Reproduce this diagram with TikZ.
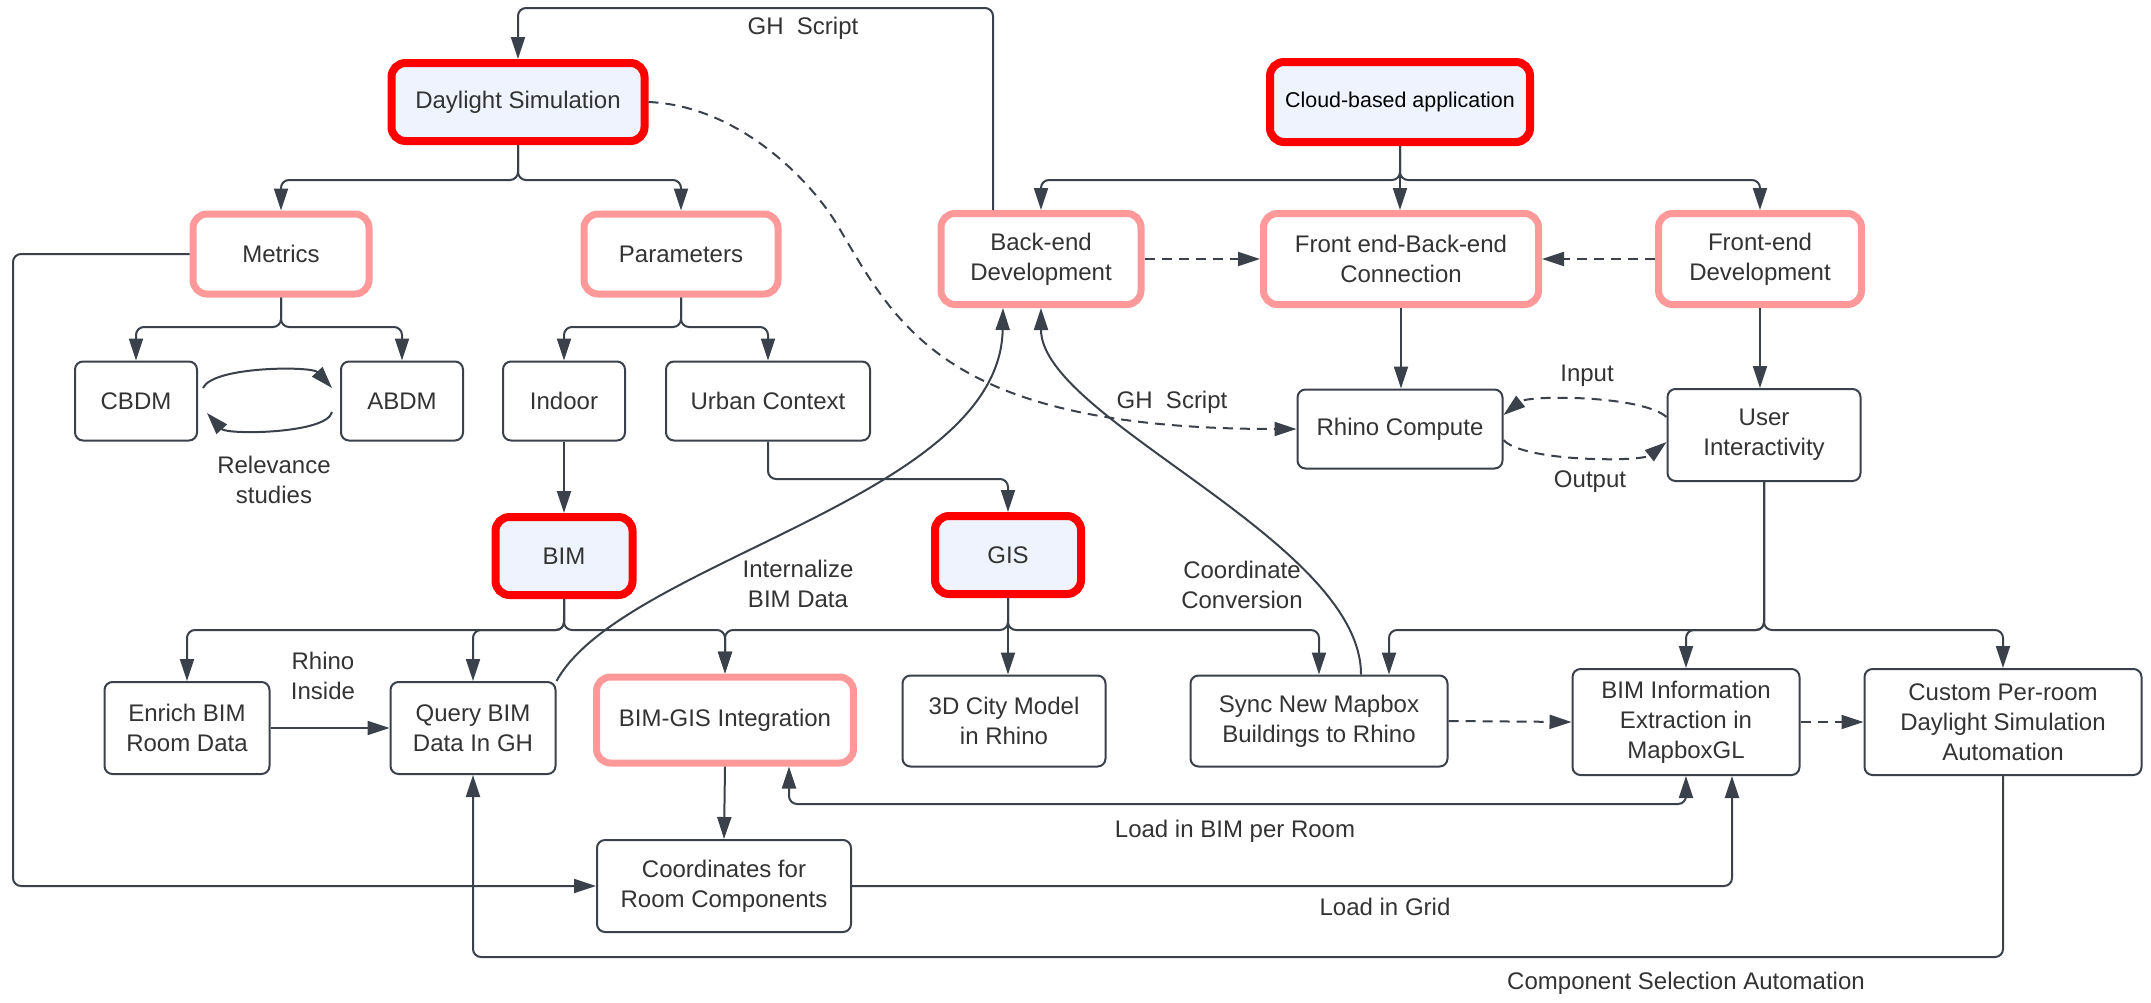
\documentclass[tikz,border=0pt]{standalone}
\usepackage{fontspec}
\setmainfont{Liberation Sans}
\usetikzlibrary{arrows.meta}
\definecolor{keyred}{HTML}{FF0000}
\definecolor{keypink}{HTML}{FF9999}
\definecolor{keyfill}{HTML}{EEF3FD}
\definecolor{linegray}{HTML}{3A414A}
\definecolor{textgray}{HTML}{333333}
\tikzset{
  box/.style={draw=linegray, line width=1pt, rounded corners=4pt, align=center, text=textgray, font=\fontsize{12}{15}\selectfont, inner sep=0pt},
  mainbox/.style={box, draw=keyred, line width=4pt, fill=keyfill, rounded corners=7pt},
  subbox/.style={box, draw=keypink, line width=3.5pt, fill=white, rounded corners=7pt},
  link/.style={draw=linegray, line width=1pt, rounded corners=4pt, -{Triangle[length=11pt,width=7pt]}},
  dlink/.style={link, dash pattern=on 5pt off 3.5pt},
  twoway/.style={link, {Triangle[length=11pt,width=7pt]}-{Triangle[length=11pt,width=7pt]}},
  lbl/.style={align=center, text=textgray, font=\fontsize{12}{15}\selectfont}
}
\begin{document}
\begin{tikzpicture}[x=0.5pt, y=-0.5pt]
    \useasboundingbox (0,0) rectangle (2151,1002);

    \node[mainbox, minimum width=126.5pt, minimum height=39pt] (ds) at (518,102) {Daylight Simulation};
    \node[mainbox, minimum width=130pt, minimum height=40pt, text=black, font=\fontsize{10.7}{13}\selectfont] (cloud) at (1400,102) {Cloud-based application};

    \node[subbox, minimum width=88pt, minimum height=40pt] (metrics) at (281,254) {Metrics};
    \node[subbox, minimum width=97pt, minimum height=40pt] (params) at (681,254) {Parameters};
    \node[subbox, minimum width=100pt, minimum height=45.5pt] (backend) at (1041,259) {Back-end\\Development};
    \node[subbox, minimum width=137.5pt, minimum height=45.5pt] (fbc) at (1401,259) {Front end-Back-end\\Connection};
    \node[subbox, minimum width=101.5pt, minimum height=45.5pt] (frontend) at (1760,259) {Front-end\\Development};

    \node[box, minimum width=61pt, minimum height=39.5pt] (cbdm) at (136,401) {CBDM};
    \node[box, minimum width=61pt, minimum height=39.5pt] (abdm) at (402,401) {ABDM};
    \node[box, minimum width=61pt, minimum height=39.5pt] (indoor) at (564,401) {Indoor};
    \node[box, minimum width=102pt, minimum height=39.5pt] (urban) at (768,401) {Urban Context};
    \node[box, minimum width=102.5pt, minimum height=39.5pt] (rhino) at (1400,429) {Rhino Compute};
    \node[box, minimum width=96.5pt, minimum height=46pt] (user) at (1764,435) {User\\Interactivity};

    \node[mainbox, minimum width=68.5pt, minimum height=39pt] (bim) at (564,556) {BIM};
    \node[mainbox, minimum width=73pt, minimum height=39pt] (gis) at (1008,555) {GIS};

    \node[box, minimum width=82.5pt, minimum height=46pt] (enrich) at (187,728) {Enrich BIM\\Room Data};
    \node[box, minimum width=82.5pt, minimum height=46pt] (query) at (473,728) {Query BIM\\Data In GH};
    \node[subbox, minimum width=128.5pt, minimum height=43pt] (bimgis) at (725,720) {BIM-GIS Integration};
    \node[box, minimum width=101.5pt, minimum height=45.5pt] (city) at (1004,721) {3D City Model\\in Rhino};
    \node[box, minimum width=128.5pt, minimum height=45.5pt] (sync) at (1319,721) {Sync New Mapbox\\Buildings to Rhino};
    \node[box, minimum width=113.5pt, minimum height=53pt] (bimext) at (1686,722) {BIM Information\\Extraction in\\MapboxGL};
    \node[box, minimum width=138.5pt, minimum height=53pt] (custom) at (2003,722) {Custom Per-room\\Daylight Simulation\\Automation};
    \node[box, minimum width=127pt, minimum height=46pt] (coords) at (724,886) {Coordinates for\\Room Components};

    \draw[link] (ds.south) -- ++(0,35) -| (metrics.north);
    \draw[link] (ds.south) -- ++(0,35) -| (params.north);
    \draw[link] (metrics.south) -- ++(0,29.5) -| (cbdm.north);
    \draw[link] (metrics.south) -- ++(0,29.5) -| (abdm.north);
    \draw[link] (params.south) -- ++(0,29.5) -| (indoor.north);
    \draw[link] (params.south) -- ++(0,29.5) -| (urban.north);
    \draw[link] (cloud.south) -- ++(0,34) -| (backend.north);
    \draw[link] (cloud.south) -- (cloud.south |- fbc.north);
    \draw[link] (cloud.south) -- ++(0,34) -| (frontend.north);

    \draw[link] ([xshift=-24pt]backend.north) -- ++(0,-202) -| (ds.north);
    \draw[dlink] (backend.east) -- (fbc.west);
    \draw[dlink] (frontend.west) -- (fbc.east);
    \draw[link] (fbc.south) -- (fbc.south |- rhino.north);
    \draw[link] (frontend.south) -- (frontend.south |- user.north);
    \draw[dlink] ([yshift=9pt]user.west) .. controls +(-25,-22) and +(25,-20) .. ([yshift=7pt]rhino.east);
    \draw[dlink] ([yshift=-5.5pt]rhino.east) .. controls +(20,22) and +(-25,20) .. ([yshift=-3.5pt]user.west);
    \draw[dlink] (ds.east) .. controls (740,106) and (812,182) .. (842,233) .. controls (902,335) and (960,429) .. (rhino.west);

    \draw[link] ([xshift=2.5pt,yshift=6.5pt]cbdm.east) .. controls +(10,-22) and +(-20,-22) .. ([xshift=-4pt,yshift=6.5pt]abdm.west);
    \draw[link] ([xshift=-4pt,yshift=-5.5pt]abdm.west) .. controls +(-5,22) and +(20,22) .. ([xshift=4.5pt,yshift=-6pt]cbdm.east);

    \draw[link] (indoor.south) -- (bim.north);
    \draw[link] (urban.south) -- ++(0,37.5) -| (gis.north);
    \draw[link] (bim.south) -- ++(0,31) -| (enrich.north);
    \draw[link] (bim.south) -- ++(0,31) -| (query.north);
    \draw[link] (bim.south) -- ++(0,31) -| (bimgis.north);
    \draw[link] (gis.south) -- ++(0,32) -| (bimgis.north);
    \draw[link] (gis.south) -- (gis.south |- city.north);
    \draw[link] (gis.south) -- ++(0,32) -| (sync.north);
    \draw[link] (user.south) -- ++(0,148) -| ([xshift=35pt]sync.north);
    \draw[link] (user.south) -- ++(0,148) -| (bimext.north);
    \draw[link] (user.south) -- ++(0,148) -| (custom.north);

    \draw[link] (enrich.east) -- (query.west);
    \draw[link] (query.north east) .. controls +(66,-120) and +(-3,190) .. ([xshift=-19pt]backend.south);
    \draw[link] ([xshift=21pt]sync.north) .. controls +(0,-134) and +(0,111) .. (backend.south);
    \draw[dlink] (sync.east) -- (bimext.west);
    \draw[dlink] (bimext.east) -- (custom.west);
    \draw[link] (bimgis.south) -- (coords.north);
    \draw[twoway] ([xshift=32pt]bimgis.south) -- ++(0,37.5) -| (bimext.south);
    \draw[link] (coords.east) -| ([xshift=23pt]bimext.south);
    \draw[link] (metrics.west) -- ++(-176.5,0) |- (coords.west);
    \draw[link] (custom.south) -- ++(0,181) -| (query.south);

    \node[lbl] (ghtop) at (803,28) {GH\ \ Script};
    \node[lbl] (ghmid) at (1172,402) {GH\ \ Script};
    \node[lbl] (relev) at (274,480) {Relevance\\studies};
    \node[lbl] (rinside) at (323,676) {Rhino\\Inside};
    \node[lbl] (intern) at (798,584) {Internalize\\BIM Data};
    \node[lbl] (conv) at (1242,585) {Coordinate\\Conversion};
    \node[lbl] (inp) at (1587,376) {Input};
    \node[lbl] (outp) at (1590,482) {Output};
    \node[lbl] (perroom) at (1235,831) {Load in BIM per Room};
    \node[lbl] (grid) at (1385,907) {Load in Grid};
    \node[lbl] (compsel) at (1686,983) {Component Selection Automation};
\end{tikzpicture}
\end{document}
